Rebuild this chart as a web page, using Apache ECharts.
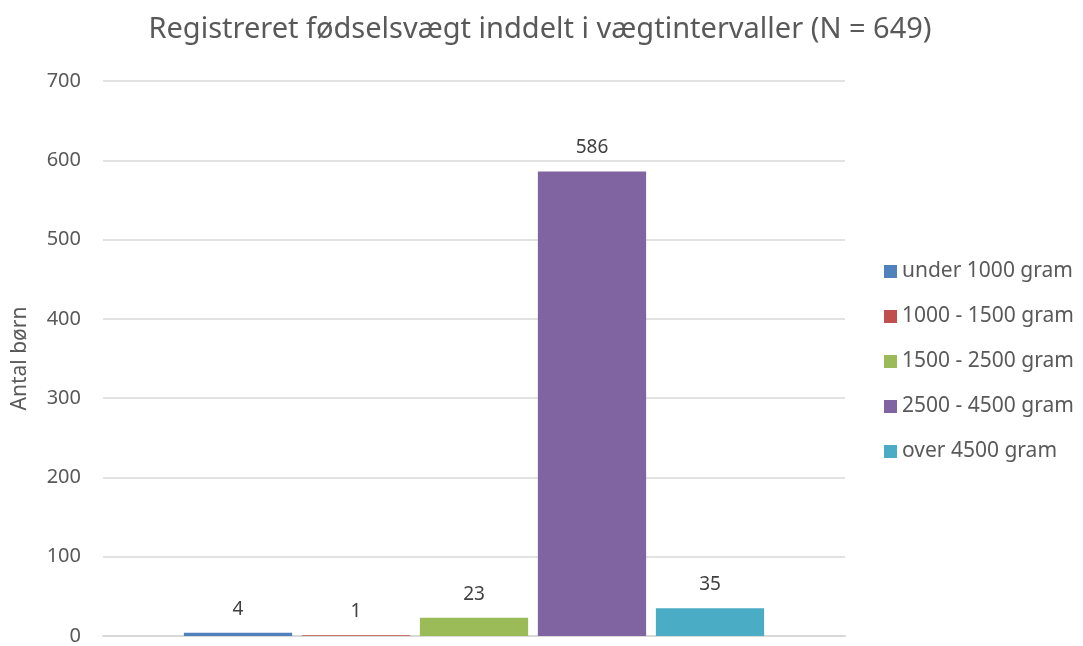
<!DOCTYPE html>
<html>
<head>
<meta charset="utf-8">
<script src="https://cdn.jsdelivr.net/npm/echarts@6/dist/echarts.min.js"></script>
<style>html,body{margin:0;padding:0;background:#fff}#c{width:1083px;height:646px}</style>
</head>
<body>
<div id="c"></div>
<script>
const categories = ['Fødselsvægt'];
const seriesNames = ['under 1000 gram', '1000 - 1500 gram', '1500 - 2500 gram', '2500 - 4500 gram', 'over 4500 gram'];
const seriesValues = [4, 1, 23, 586, 35];
const colors = ['#4F81BD', '#C0504D', '#9BBB59', '#8064A2', '#4BACC6'];
const yTicks = [0, 100, 200, 300, 400, 500, 600, 700];

const chart = echarts.init(document.getElementById('c'));
const font = 'Noto Sans, sans-serif';
chart.setOption({
  animation: false,
  color: colors,
  title: {
    text: 'Registreret fødselsvægt inddelt i vægtintervaller (N = 649)',
    left: 535, top: 10, textAlign: 'center',
    textStyle: { fontFamily: font, fontSize: 29, fontWeight: 'normal', color: '#595959' }
  },
  legend: {
    orient: 'vertical', left: 879, top: 256, itemGap: 24, itemWidth: 13, itemHeight: 13, icon: 'rect',
    textStyle: { fontFamily: font, fontSize: 21, color: '#595959' },
    data: seriesNames
  },
  grid: { left: 103, right: 238, top: 81, bottom: 7, containLabel: false },
  xAxis: {
    type: 'category', data: categories,
    axisLine: { lineStyle: { color: '#D9D9D9', width: 2 } },
    axisTick: { show: false }, axisLabel: { show: false }
  },
  yAxis: {
    type: 'value', min: 0, max: 700, interval: 100,
    name: 'Antal børn', nameLocation: 'middle', nameGap: 72,
    nameTextStyle: { fontFamily: font, fontSize: 21, color: '#595959' },
    axisLabel: { fontFamily: font, fontSize: 20, color: '#595959', margin: 22,
      formatter: v => yTicks.includes(v) ? String(v) : '' },
    axisLine: { show: false }, axisTick: { show: false },
    splitLine: { lineStyle: { color: '#D9D9D9', width: 1.5 } }
  },
  series: seriesNames.map((name, i) => ({
    name, type: 'bar',
    data: [seriesValues[i]],
    barGap: '9%', barCategoryGap: '21.8%',
    itemStyle: { color: colors[i] },
    label: { show: true, position: 'top', distance: 14, fontFamily: font, fontSize: 19, color: '#404040' }
  }))
});
</script>
</body>
</html>
